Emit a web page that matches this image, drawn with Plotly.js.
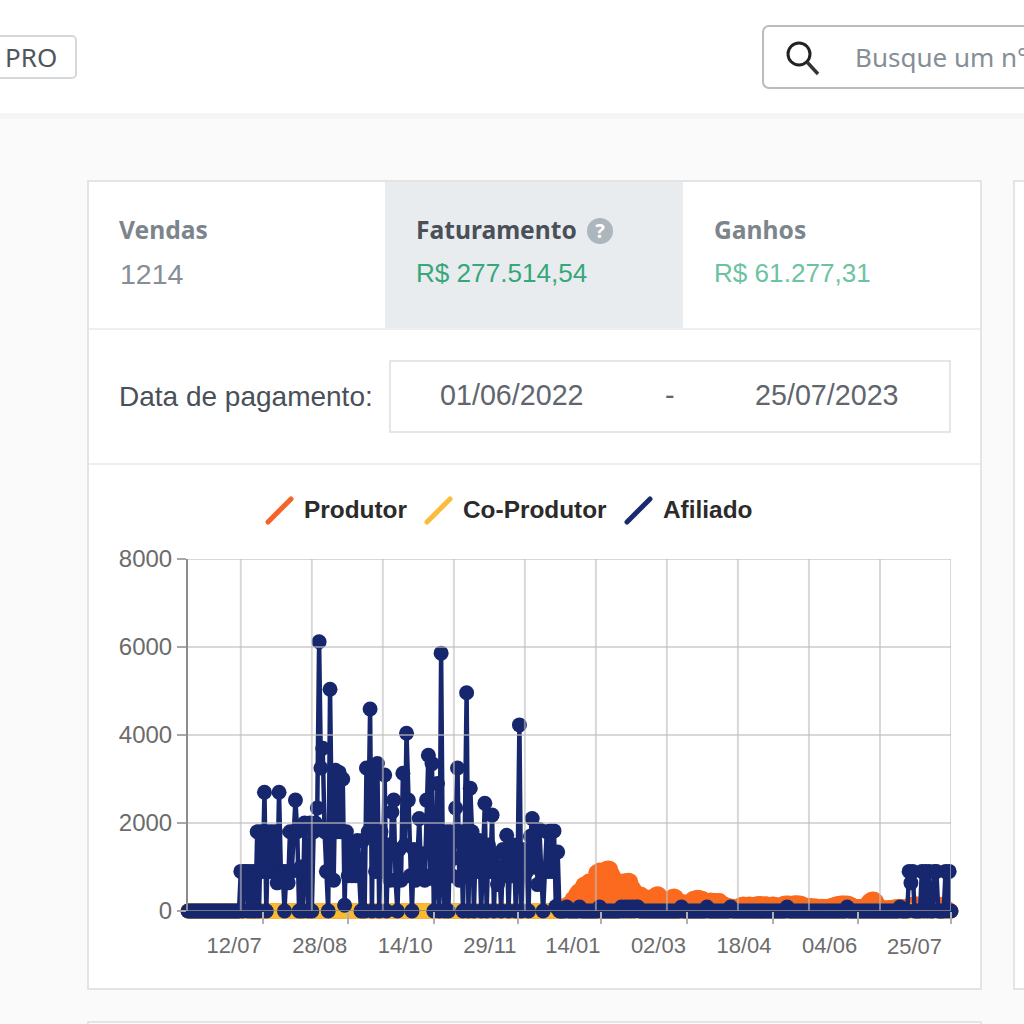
<!DOCTYPE html>
<html lang="pt-BR">
<head>
<meta charset="utf-8">
<script src="https://cdn.plot.ly/plotly-3.0.1.min.js"></script>
<style>
html,body{margin:0;padding:0;width:1024px;height:1024px;overflow:hidden;background:#fafafa;font-family:"Liberation Sans",Arial,sans-serif}
.a{position:absolute;white-space:nowrap}
.box{position:absolute;box-sizing:border-box}
.h{font-family:"Noto Sans",sans-serif;font-weight:700;font-size:24.6px;line-height:30px}
.v{line-height:30px}
.leg{font-weight:700;font-size:24.4px;line-height:28px;color:#2b2b2b}
.d{font-size:28.7px;line-height:30px;color:#5f666d}
</style>
</head>
<body>
<div class="box" style="left:0;top:0;width:1024px;height:113px;background:#fff"></div>
<div class="box" style="left:0;top:113px;width:1024px;height:6px;background:#f5f5f5"></div>
<div class="box" style="left:-20px;top:35px;width:97px;height:44px;border:2px solid #d6d8da;border-radius:5px;background:#fff"></div>
<div class="a" style="left:5px;top:42px;font:26px/30px 'Noto Sans',sans-serif;color:#50565c">PRO</div>
<div class="box" style="left:762px;top:25px;width:300px;height:64px;border:2px solid #b9bcbf;border-radius:7px;background:#fff"></div>
<svg class="box" style="left:782px;top:38px" width="40" height="40"><circle cx="17" cy="16" r="11" fill="none" stroke="#222" stroke-width="3"/><line x1="25" y1="24" x2="36" y2="36" stroke="#333" stroke-width="3.4"/></svg>
<div class="a" style="left:855px;top:42px;font:26px/30px 'Noto Sans',sans-serif;color:#868e96">Busque um n°</div>

<div class="box" style="left:87px;top:180px;width:895px;height:810px;background:#fff;border:2px solid #e2e4e6"></div>
<div class="box" style="left:1013px;top:180px;width:40px;height:810px;background:#fff;border:2px solid #e2e4e6"></div>
<div class="box" style="left:87px;top:1021px;width:895px;height:40px;background:#fff;border:2px solid #e2e4e6"></div>
<div class="box" style="left:385px;top:182px;width:298px;height:146px;background:#e9ecef"></div>
<div class="box" style="left:89px;top:328px;width:891px;height:2px;background:#eceef0"></div>
<div class="box" style="left:89px;top:463px;width:891px;height:2px;background:#eceef0"></div>

<div class="a h" style="left:119px;top:215px;color:#7d858c">Vendas</div>
<div class="a v" style="left:120px;top:259px;font-size:28.5px;color:#868e96">1214</div>
<div class="a h" style="left:416px;top:215px;color:#495057">Faturamento</div>
<div class="box" style="left:587px;top:218px;width:26px;height:26px;border-radius:50%;background:#adb5bd;color:#fff;font:700 20px/26px 'Noto Sans',sans-serif;text-align:center">?</div>
<div class="a v" style="left:416px;top:258px;font-size:26.1px;color:#36a77a">R$ 277.514,54</div>
<div class="a h" style="left:714px;top:215px;color:#7d858c">Ganhos</div>
<div class="a v" style="left:714px;top:258px;font-size:26.1px;color:#6cc3a0">R$ 61.277,31</div>

<div class="a d" style="left:119px;top:382px;color:#495057;font-size:28px">Data de pagamento:</div>
<div class="box" style="left:389px;top:360px;width:562px;height:73px;border:2px solid #e4e6e8"></div>
<div class="a d" style="left:440px;top:380px">01/06/2022</div>
<div class="a d" style="left:665px;top:380px">-</div>
<div class="a d" style="left:755px;top:380px">25/07/2023</div>

<div id="chart" class="box" style="left:88px;top:465px;width:893px;height:524px"></div>

<svg class="box" style="left:262px;top:494px;z-index:5" width="400" height="32">
<line x1="6" y1="28" x2="29" y2="5" stroke="#f4632a" stroke-width="5" stroke-linecap="round"/>
<line x1="165" y1="28" x2="188" y2="5" stroke="#fbbc3c" stroke-width="5" stroke-linecap="round"/>
<line x1="365" y1="28" x2="388" y2="5" stroke="#1a2a6c" stroke-width="5" stroke-linecap="round"/>
</svg>
<div class="a leg" style="left:304px;top:496px;z-index:5">Produtor</div>
<div class="a leg" style="left:463px;top:496px;z-index:5">Co-Produtor</div>
<div class="a leg" style="left:663px;top:496px;z-index:5">Afiliado</div>

<script>
const dataInicial = Date.UTC(2022, 5, 1);

const afiliadoValores = [
0,0,0,0,0,0,0,0,0,0,
0,0,0,0,0,0,0,0,0,0,
0,0,0,0,0,0,0,0,0,900,
0,900,900,0,900,0,900,0,1800,0,
1800,900,2700,0,1800,900,1800,900,1800,640,
2700,900,900,0,900,640,1800,900,1800,2520,
1800,0,1000,0,2000,600,0,2000,0,1800,
2000,2340,6120,3250,3700,1800,900,0,5040,1800,
700,3200,1800,3150,1800,3000,130,1800,800,1500,
800,1500,800,1600,800,0,1600,0,3250,1800,
4590,0,3300,900,3350,0,1800,900,3090,0,
1500,700,2250,2520,700,0,1400,700,3130,1500,
4040,2520,800,0,1400,700,1200,2100,800,1300,
700,2520,3540,800,3350,0,700,2900,0,5860,
700,0,1800,0,1800,800,1200,2340,3250,700,
1800,0,1800,4960,0,2790,1800,0,1500,900,
1600,0,1500,2450,0,1500,900,2180,0,1300,
600,1000,0,1400,800,1720,0,1200,800,1500,
0,1000,4230,0,900,1400,900,0,1700,2100,
1000,1800,600,1850,900,0,900,1800,900,1820,
900,1820,100,1340,0,0,0,0,90,0,
0,0,0,0,0,90,0,0,0,0,
0,0,0,0,0,0,90,0,0,0,
0,0,0,0,0,0,0,0,90,0,
90,0,90,0,90,0,90,90,0,0,
0,0,0,0,0,0,0,0,0,0,
0,0,0,0,0,0,0,0,0,0,
0,90,0,0,0,0,0,0,0,0,
0,0,0,0,0,90,0,0,0,0,
0,0,0,0,0,0,0,0,90,0,
0,0,0,0,0,0,0,0,0,0,
0,0,0,0,0,0,0,0,0,0,
0,0,0,0,0,0,0,0,0,90,
0,0,0,0,0,0,0,0,0,0,
0,0,0,0,0,0,0,0,0,0,
0,0,0,0,0,0,0,0,0,0,
0,0,90,0,0,0,0,0,0,0,
0,0,0,0,0,0,0,0,0,0,
0,0,0,0,0,0,0,0,0,0,
0,90,0,0,0,0,900,640,900,0,
0,0,0,900,0,900,0,900,0,0,
900,900,0,0,0,0,900,0,900,0
];

const produtorValores = [
0,0,0,0,0,0,0,0,0,0,0,0,0,0,0,0,0,0,0,0,
0,0,0,0,0,0,0,0,0,0,0,0,0,0,0,0,0,0,0,0,
0,0,0,0,0,0,0,0,0,0,0,0,0,0,0,0,0,0,0,0,
0,0,0,0,0,0,0,0,0,0,0,0,0,0,0,0,0,0,0,0,
0,0,0,0,0,0,0,0,0,0,0,0,0,0,0,0,0,0,0,0,
0,0,0,0,0,0,0,0,0,0,0,0,0,0,0,0,0,0,0,0,
0,0,0,0,0,0,0,0,0,0,0,0,0,0,0,0,0,0,0,0,
0,0,0,0,0,0,0,0,0,0,0,0,0,0,0,0,0,0,0,0,
0,0,0,0,0,0,0,0,0,0,0,0,0,0,0,0,0,0,0,0,
0,0,0,0,0,0,0,0,0,0,0,0,0,0,0,0,0,0,0,0,
0,0,0,0,0,0,50,100,150,120,
200,280,240,390,450,400,520,600,560,640,
680,660,500,600,880,900,930,860,920,950,
970,980,960,850,760,700,640,680,600,660,
690,640,700,680,560,500,430,400,360,380,
340,300,320,280,250,300,350,380,390,370,
300,200,140,180,250,300,330,340,320,260,
220,180,210,200,180,190,230,280,290,300,
310,300,290,280,230,220,240,250,240,230,
240,230,240,190,170,150,130,120,100,110,
95,90,110,130,150,160,140,150,160,155,
140,150,160,165,170,160,150,165,160,140,
150,160,155,140,120,130,150,170,180,175,
180,170,175,180,185,175,180,170,150,120,
130,125,115,120,110,115,100,105,110,100,
95,100,110,120,130,150,160,170,175,180,
180,175,180,170,150,130,110,105,100,100,
105,110,130,180,230,260,270,265,230,150,
100,85,75,70,70,75,80,85,90,95,
100,100,95,90,85,110,130,140,150,160,
160,155,160,165,160,150,160,165,160,155,
160,165,160,150,140,110,90,60,30,0
];

const coProdutorValores = [
0,0,0,0,0,0,0,0,0,0,0,0,0,0,0,0,0,0,0,0,
0,0,0,0,0,0,0,0,0,0,0,0,0,0,0,0,0,0,0,0,
0,0,0,0,0,0,0,0,0,0,0,0,0,0,0,0,0,0,0,0,
0,0,0,0,0,0,0,0,0,0,0,0,0,0,0,0,0,0,0,0,
0,0,0,0,0,0,0,0,0,0,0,0,0,0,0,0,0,0,0,0,
0,0,0,0,0,0,0,0,0,0,0,0,0,0,0,0,0,0,0,0,
0,0,0,0,0,0,0,0,0,0,0,0,0,0,0,0,0,0,0,0,
0,0,0,0,0,0,0,0,0,0,0,0,0,0,0,0,0,0,0,0,
0,0,0,0,0,0,0,0,0,0,0,0,0,0,0,0,0,0,0,0,
0,0,0,0,0,0,0,0,0,0,0,0,0,0,0,0,0,0,0,0,
0,0,0,0,0,0,0,0,0,0,0,0,0,0,0,0,0,0,0,0,
0,0,0,0,0,0,0,0,0,0,0,0,0,0,0,0,0,0,0,0,
0,0,0,0,0,0,0,0,0,0,0,0,0,0,0,0,0,0,0,0,
0,0,0,0,0,0,0,0,0,0,0,0,0,0,0,0,0,0,0,0,
0,0,0,0,0,0,0,0,0,0,0,0,0,0,0,0,0,0,0,0,
0,0,0,0,0,0,0,0,0,0,0,0,0,0,0,0,0,0,0,0,
0,0,0,0,0,0,0,0,0,0,0,0,0,0,0,0,0,0,0,0,
0,0,0,0,0,0,0,0,0,0,0,0,0,0,0,0,0,0,0,0,
0,0,0,0,0,0,0,0,0,0,0,0,0,0,0,0,0,0,0,0,
0,0,0,0,0,0,0,0,0,0,0,0,0,0,0,0,0,0,0,0,
0,0,0,0,0,0,0,0,0,0,0,0,0,0,0,0,0,0,0,0
];

const rotulosData = ['2022-07-12','2022-08-28','2022-10-14','2022-11-29','2023-01-14','2023-03-02','2023-04-18','2023-06-04','2023-07-25'];
const rotulosTexto = ['12/07','28/08','14/10','29/11','14/01','02/03','18/04','04/06','25/07'];
const gradeData = ['2022-06-30','2022-08-08','2022-09-16','2022-10-25','2022-12-03','2023-01-11','2023-02-19','2023-03-30','2023-05-08','2023-06-16','2023-07-25'];
const gradeValores = [2000,4000,6000,8000];
const valoresEixoY = [0,2000,4000,6000,8000];

const dias = afiliadoValores.map((_, i) => new Date(dataInicial + i * 86400000).toISOString().slice(0, 10));

function serie(nome, valores, cor, extra) {
  return Object.assign({
    type: 'scatter', mode: 'lines+markers', name: nome, x: dias, y: valores,
    line: {color: cor, width: 4.5, shape: 'linear'},
    marker: {color: cor, size: 15},
    cliponaxis: false, showlegend: false, hoverinfo: 'skip'
  }, extra || {});
}

const corGrade = 'rgba(190,190,190,0.6)';
const shapes = [];
gradeData.forEach(d => shapes.push({type: 'line', layer: 'above', xref: 'x', yref: 'paper', x0: d, x1: d, y0: 0, y1: 1, line: {color: corGrade, width: 2}}));
gradeValores.forEach(v => shapes.push({type: 'line', layer: 'above', xref: 'paper', yref: 'y', x0: 0, x1: 1, y0: v, y1: v, line: {color: corGrade, width: 2}}));
shapes.push({type: 'line', layer: 'above', xref: 'paper', yref: 'y', x0: 0, x1: 1, y0: 0, y1: 0, line: {color: 'rgba(140,140,140,0.8)', width: 2}});

const ultimo = rotulosTexto.length - 1;

Plotly.newPlot('chart', [
  serie('Produtor', produtorValores, '#fb6a1e', {fill: 'tozeroy', fillcolor: '#fb6a1e'}),
  serie('Co-Produtor', coProdutorValores, '#fbb92e'),
  serie('Afiliado', afiliadoValores, '#17276e')
], {
  width: 893, height: 524,
  margin: {l: 100, r: 30, t: 94, b: 78, pad: 0},
  paper_bgcolor: 'rgba(0,0,0,0)', plot_bgcolor: '#fff',
  font: {family: '"Liberation Sans", Arial, sans-serif', size: 22, color: '#6c6c6c'},
  shapes: shapes,
  annotations: [{
    xref: 'x', yref: 'paper', x: rotulosData[ultimo], y: 0, text: rotulosTexto[ultimo],
    showarrow: false, xanchor: 'right', yanchor: 'top', xshift: -7, yshift: -21,
    font: {size: 22, color: '#6c6c6c'}
  }],
  xaxis: {
    type: 'date', range: ['2022-06-01', '2023-07-25'], tickmode: 'array',
    tickvals: rotulosData, ticktext: rotulosTexto.map((t, i) => i === ultimo ? ' ' : t),
    ticklabelposition: 'outside left', ticks: 'outside', ticklen: 12, tickwidth: 2, tickcolor: '#b0b0b0',
    ticklabelstandoff: 15, tickangle: 0, showgrid: false, zeroline: false, showline: false,
    tickfont: {size: 22, color: '#6c6c6c'}
  },
  yaxis: {
    range: [0, 8000], tickmode: 'array', tickvals: valoresEixoY, ticktext: valoresEixoY.map(String),
    ticks: 'outside', ticklen: 9, tickwidth: 2, tickcolor: '#a8a8a8',
    showgrid: false, zeroline: false, showline: true, linecolor: '#8c8c8c', linewidth: 2,
    tickfont: {size: 24, color: '#6c6c6c'}, layer: 'above traces'
  }
}, {displayModeBar: false, staticPlot: true});
</script>
</body>
</html>
